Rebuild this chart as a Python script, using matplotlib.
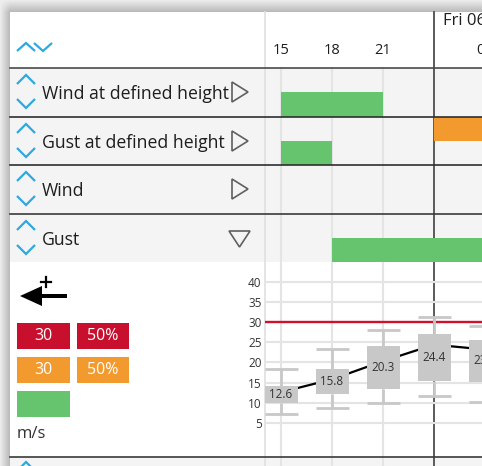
import matplotlib
matplotlib.use("Agg")
import matplotlib.pyplot as plt
import numpy as np
from matplotlib.patches import Rectangle, Polygon
from matplotlib.transforms import blended_transform_factory

plt.rcParams['font.family'] = ['Open Sans', 'DejaVu Sans']

# ---------------- data ----------------
row_labels = ["Wind at defined height", "Gust at defined height", "Wind", "Gust"]
row_expanded = [False, False, False, True]
# warning periods per row: (start hour, end hour, level)
row_bars = [
    [(15, 21, "green")],
    [(24, 30, "orange"), (15, 18, "green")],
    [],
    [(18, 30, "green")],
]
hour_ticks = [15, 18, 21, 27]
hour_tick_labels = ["15", "18", "21", "03"]
day_start = 24
day_label = "Fri 06"

box_hours = [15, 18, 21, 24, 27]
gust_mean = [12.6, 15.8, 20.3, 24.4, 23.2]
gust_q_low = [10.0, 12.2, 13.4, 15.4, 15.1]
gust_q_high = [14.2, 18.4, 24.1, 27.0, 25.6]
gust_min = [7.2, 8.7, 9.9, 11.7, 10.2]
gust_max = [18.4, 23.3, 28.0, 31.3, 29.0]
y_ticks = [5, 10, 15, 20, 25, 30, 35, 40]
threshold = 30
legend_rows = [("30", "50%", "red"), ("30", "50%", "orange"), ("", "", "green")]
unit_label = "m/s"

COL = {"red": "#c8102e", "orange": "#f39a2f", "green": "#66c46e"}
BLUE = "#2ea8e0"
TXT = "#1e1e1e"

# ---------------- figure ----------------
W, H = 482, 466
fig = plt.figure(figsize=(W / 100, H / 100), dpi=100)


def px_axes(x0, y0, x1, y1):
    ax = fig.add_axes([x0 / W, 1 - y1 / H, (x1 - x0) / W, (y1 - y0) / H])
    ax.patch.set_alpha(0)
    return ax


ax_bg = px_axes(0, 0, W, H)
# shadow around panel
yy, xx = np.mgrid[0:H, 0:W] + 0.5
s = np.clip(yy / 12, 0, 1) * np.clip(xx / 10, 0, 1)
img = 0.93 - 0.21 * s
ax_bg.imshow(img, cmap="gray", vmin=0, vmax=1, extent=(0, W, H, 0),
             interpolation="bilinear", aspect="auto", zorder=0)
ax_bg.set_xlim(0, W)
ax_bg.set_ylim(H, 0)
ax_bg.axis("off")

PX0 = 10
ax_bg.add_patch(Rectangle((PX0, 12), W - PX0, 56, fc="white", ec="none", zorder=1))
ax_bg.add_patch(Rectangle((PX0, 68), W - PX0, 194, fc="#f4f4f4", ec="none", zorder=1))
ax_bg.add_patch(Rectangle((PX0, 262), W - PX0, 195, fc="white", ec="none", zorder=1))
ax_bg.add_patch(Rectangle((PX0, 457), W - PX0, 9, fc="#f4f4f4", ec="none", zorder=1))

# time axes
CX0, CX1 = 265, 482
PX_PER_H = 17.0
X_DAY = 434
t_left = day_start - (X_DAY - CX0) / PX_PER_H
t_right = day_start + (CX1 - X_DAY) / PX_PER_H

ax_t = px_axes(CX0, 68, CX1, 262)
ax_t.set_xlim(t_left, t_right)
ax_t.set_ylim(len(row_labels), 0)
ax_t.axis("off")

ax_b = px_axes(CX0, 262, CX1, 457)
ax_b.set_xlim(t_left, t_right)
Y0PX, PXU = 443.0, 4.03
ax_b.set_ylim((Y0PX - 457) / PXU, (Y0PX - 262) / PXU)

bt = blended_transform_factory(ax_t.transData, ax_bg.transData)

# column divider and time gridlines (behind bars)
ax_bg.plot([CX0, CX0], [12, H], color="#e2e2e2", lw=1.3, zorder=2)
for h in hour_ticks[:-1]:
    ax_bg.plot([h, h], [68, H], color="#e4e4e4", lw=1.5, transform=bt, zorder=2)
ax_bg.plot([day_start, day_start], [12, H], color="#5a5a5a", lw=1.4, transform=bt, zorder=3)

# header
for h, lab in zip(hour_ticks, hour_tick_labels):
    ax_bg.text(h, 50, lab, transform=bt, ha="center", va="center", fontsize=10.5, color=TXT, zorder=5)
ax_bg.text(day_start + 9 / PX_PER_H, 25, day_label, transform=bt, ha="left", va="baseline",
           fontsize=12, color=TXT, zorder=5)


def chevron(x0, x1, ytop, ybot, up=True, lw=1.6):
    xm = (x0 + x1) / 2
    if up:
        ax_bg.plot([x0, xm, x1], [ybot, ytop, ybot], color=BLUE, lw=lw, zorder=5,
                   solid_joinstyle="miter", solid_capstyle="butt")
    else:
        ax_bg.plot([x0, xm, x1], [ytop, ybot, ytop], color=BLUE, lw=lw, zorder=5,
                   solid_joinstyle="miter", solid_capstyle="butt")


chevron(17, 35, 43, 51, up=True)
chevron(34, 52, 43, 51, up=False)

row_tops = [68, 117, 165, 214]
for i, (lab, top) in enumerate(zip(row_labels, row_tops)):
    chevron(17, 35, top + 7, top + 16, up=True)
    chevron(17, 35, top + 31, top + 40, up=False)
    ax_bg.text(42, top + 31, lab, ha="left", va="baseline", fontsize=12.7, color=TXT, zorder=5)
    if row_expanded[i]:
        tri = [(229, top + 17), (250, top + 17), (239.5, top + 33)]
    else:
        tri = [(232, top + 14), (232, top + 34), (248, top + 24)]
    ax_bg.add_patch(Polygon(tri, closed=True, fc="none", ec="#606060", lw=1.2, zorder=5))

# bottom chevron of next row (partially visible)
chevron(17, 35, 462, 471, up=True)

# warning bars
for i, bars in enumerate(row_bars):
    for (h0, h1, lvl) in bars:
        y0 = i if lvl in ("orange", "red") else i + 0.5
        ax_t.add_patch(Rectangle((h0, y0), h1 - h0, 0.5, fc=COL[lvl], ec="none", zorder=3))

# box plot panel
ax_b.set_yticks(y_ticks)
ax_b.set_xticks([])
ax_b.tick_params(axis="y", length=0, pad=2.5, labelsize=8.5, labelcolor="#333333")
for sp in ax_b.spines.values():
    sp.set_visible(False)
ax_b.grid(axis="y", color="#e4e4e4", lw=1.5, zorder=0)
ax_b.set_axisbelow(True)
ax_b.axhline(threshold, color="#d0102c", lw=1.7, zorder=2)

bw = 33 / PX_PER_H
bh = np.array(box_hours, dtype=float)
ax_b.plot(bh, gust_mean, color="black", lw=1.6, zorder=3, clip_on=False)
ax_b.vlines(bh, gust_min, gust_q_low, color="#c8c8c8", lw=2.0, zorder=4)
ax_b.vlines(bh, gust_q_high, gust_max, color="#c8c8c8", lw=2.0, zorder=4)
ax_b.hlines(gust_min, bh - bw / 2, bh + bw / 2, color="#c8c8c8", lw=2.0, zorder=4)
ax_b.hlines(gust_max, bh - bw / 2, bh + bw / 2, color="#c8c8c8", lw=2.0, zorder=4)
ax_b.bar(bh, np.array(gust_q_high) - np.array(gust_q_low), bottom=gust_q_low, width=bw,
         color="#c8c8c8", zorder=5)
for h, m, ql, qh in zip(bh, gust_mean, gust_q_low, gust_q_high):
    ax_b.text(h, (ql + qh) / 2, f"{m:.1f}", ha="center", va="center", fontsize=8.4,
              color="#333333", zorder=6)

# legend panel
ax_bg.add_patch(Polygon([(20, 296), (42, 286), (42, 306)], closed=True, fc="black", ec="none", zorder=5))
ax_bg.add_patch(Rectangle((40, 294), 27, 4, fc="black", ec="none", zorder=5))
ax_bg.plot([41, 51], [282, 282], color="black", lw=1.6, zorder=5)
ax_bg.plot([46, 46], [277, 287], color="black", lw=1.6, zorder=5)

for j, (t1, t2, lvl) in enumerate(legend_rows):
    y0 = 323 + j * 34
    ax_bg.add_patch(Rectangle((17, y0), 53, 26, fc=COL[lvl], ec="none", zorder=5))
    if t1:
        ax_bg.text(43.5, y0 + 13.5, t1, ha="center", va="center", fontsize=11.5, color="white", zorder=6)
    if t2:
        ax_bg.add_patch(Rectangle((77, y0), 52, 26, fc=COL[lvl], ec="none", zorder=5))
        ax_bg.text(103, y0 + 13.5, t2, ha="center", va="center", fontsize=11.5, color="white", zorder=6)
ax_bg.text(17, 434, unit_label, ha="left", va="center", fontsize=12, color="#333333", zorder=6)

# row separators on top
ax_fg = px_axes(0, 0, W, H)
ax_fg.set_xlim(0, W)
ax_fg.set_ylim(H, 0)
ax_fg.axis("off")
for y, c in [(68, "#4a4a4a"), (117, "#2e2e2e"), (165, "#2e2e2e"), (214, "#3a3a3a"), (457, "#3a3a3a")]:
    ax_fg.plot([PX0, W], [y, y], color=c, lw=1.2, zorder=10)

fig.savefig("out.png", dpi=100)
